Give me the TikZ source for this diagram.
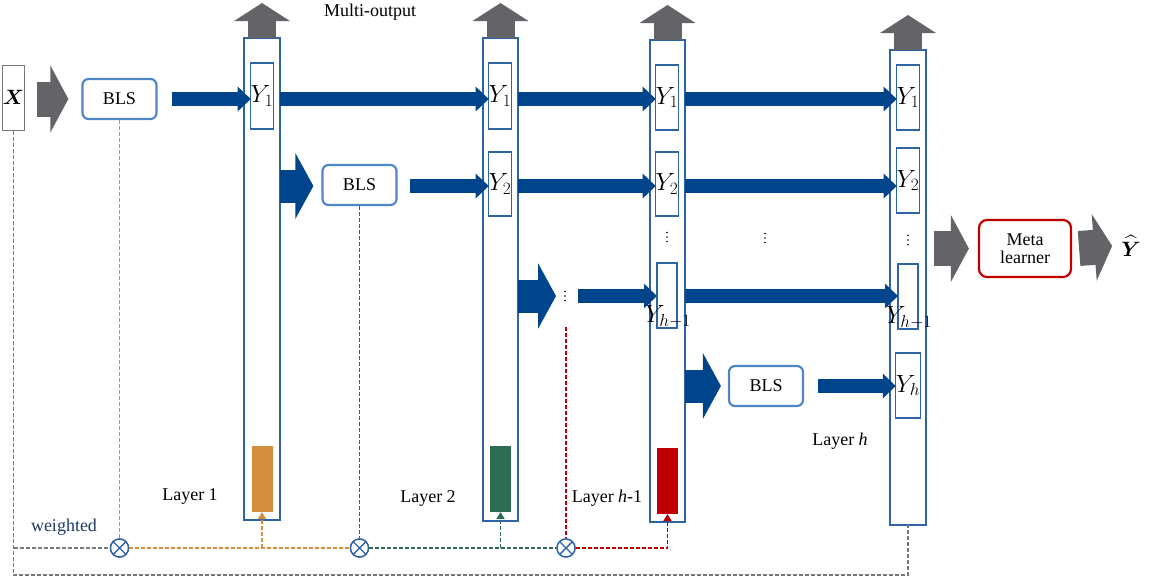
\documentclass[tikz,border=0pt]{standalone}
\usepackage{amsmath,amssymb}
\usepackage{fontspec}
\setmainfont{Liberation Serif}
\usetikzlibrary{arrows.meta,calc}
\definecolor{arrblue}{RGB}{0,69,139}
\definecolor{colblue}{RGB}{46,100,165}
\definecolor{blsblue}{RGB}{79,134,198}
\definecolor{agray}{RGB}{99,99,104}
\definecolor{orng}{RGB}{212,142,62}
\definecolor{grn}{RGB}{46,107,85}
\definecolor{rd}{RGB}{192,0,0}
\definecolor{wblue}{RGB}{31,56,100}
\definecolor{xgray}{RGB}{120,120,120}
\tikzset{
 txt/.style={font=\fontsize{18}{20}\selectfont},
 column/.style={draw=colblue,line width=1.3pt,inner sep=0pt,outer sep=0pt,minimum width=36pt},
 ybox/.style={draw=colblue,line width=1.2pt,inner sep=0pt,outer sep=0pt,minimum width=20pt,minimum height=65pt,font=\fontsize{23}{25}\selectfont},
 ylab/.style={inner sep=0pt,font=\fontsize{23}{25}\selectfont},
 bar/.style={inner sep=0pt,outer sep=0pt,minimum width=21pt,minimum height=66pt},
 bls/.style={draw=blsblue,line width=2.2pt,rounded corners=6pt,minimum width=74pt,minimum height=40pt,txt},
 bluearr/.style={draw=arrblue,line width=14pt,-{Triangle[width=24pt,length=13pt]}},
 fatblue/.style={draw=arrblue,line width=33pt,-{Triangle[width=65pt,length=18pt]}},
 fatgray/.style={draw=agray,line width=35pt,-{Triangle[width=66pt,length=18pt]}},
 upgray/.style={draw=agray,line width=28pt,-{Triangle[width=55pt,length=18pt]}},
 dsh/.style={dash pattern=on 4pt off 2pt,line width=1.6pt},
 dashtip/.style={-{Triangle[width=8pt,length=7pt]}},
 mult/.style={circle,draw=colblue,fill=white,line width=1.4pt,minimum size=18pt,inner sep=0pt,
   path picture={\draw[colblue,line width=1.4pt] (path picture bounding box.north west)--(path picture bounding box.south east) (path picture bounding box.north east)--(path picture bounding box.south west);}},
}
\newcommand{\vdotsat}[1]{\fill (#1) ++(0,-4.5) circle (0.9) (#1) circle (0.9) (#1) ++(0,4.5) circle (0.9);}
\begin{document}
\begin{tikzpicture}[x=1pt,y=-1pt]
\useasboundingbox (0,0) rectangle (1151,576);
% row coordinates
\coordinate (r1) at (0,99);
\coordinate (r2) at (0,186);
\coordinate (r3) at (0,296);
\coordinate (r4) at (0,386);
\coordinate (bot) at (0,575);
% input
\node[draw=xgray,line width=1pt,inner sep=0pt,minimum width=19pt,minimum height=65pt,font=\fontsize{21}{23}\selectfont] (X) at (13.5,97.5) {$\boldsymbol{X}$};
\node[bls] (bls1) at (119.5,99) {BLS};
\node[bls] (bls2) at (359.5,185) {BLS};
\node[bls] (bls3) at (766,386) {BLS};
\node[draw=rd,line width=2.2pt,rounded corners=8pt,minimum width=92pt,minimum height=57pt,txt,align=center,inner sep=0pt] (meta) at (1025,248.5) {Meta\\[-2pt]learner};
\node[inner sep=0pt,font=\fontsize{21}{23}\selectfont] (yhat) at (1131,246) {$\widehat{\boldsymbol{Y}}$};
% columns
\node[column,minimum height=482pt] (c1) at (262,279) {};
\node[column,minimum height=483pt,minimum width=35pt] (c2) at (500.5,279.5) {};
\node[column,minimum height=482pt,minimum width=35pt] (c3) at (667.5,281) {};
\node[column,minimum height=475pt] (c4) at (908,287.5) {};
% outputs
\node[ybox,minimum height=66pt] (c1y1) at (262,96) {$Y_1$};
\node[ybox,minimum height=66pt] (c2y1) at (500,96) {$Y_1$};
\node[ybox,minimum height=64pt] (c2y2) at (500,184) {$Y_2$};
\node[ybox] (c3y1) at (667,97.5) {$Y_1$};
\node[ybox,minimum height=64pt] (c3y2) at (667,184) {$Y_2$};
\node[ybox] (c3yh1) at (667,295.5) {};
\node[ylab] (c3yh1t) at (668,317) {$Y_{h-1}$};
\node[ybox] (c4y1) at (908,97.5) {$Y_1$};
\node[ybox] (c4y2) at (908,180.5) {$Y_2$};
\node[ybox] (c4yh1) at (908,296.5) {};
\node[ylab] (c4yh1t) at (909,318) {$Y_{h-1}$};
\node[ybox] (c4yh) at (908,385.5) {$Y_h$};
% dots
\coordinate (d3) at (667,237);
\coordinate (d4) at (908,240);
\coordinate (dm) at (765,238);
\coordinate (dots3) at (565,296);
\vdotsat{d3}\vdotsat{d4}\vdotsat{dm}\vdotsat{dots3}
% bars
\node[bar,fill=orng] (c1bar) at (262,479) {};
\node[bar,fill=grn] (c2bar) at (500.5,479) {};
\node[bar,fill=rd] (c3bar) at (667.5,481) {};
% labels
\node[txt] (mo) at (370,12) {Multi-output};
\node[txt] (l1) at (190,496) {Layer 1};
\node[txt] (l2) at (428,498) {Layer 2};
\node[txt] (lh1) at (607,498) {Layer \textit{h}-1};
\node[txt] (lh) at (840,441) {Layer \textit{h}};
\node[txt,text=wblue] (w) at (64,527) {weighted};
% multipliers
\node[mult] (m1) at (119.5,548) {};
\node[mult] (m2) at (359.5,548) {};
\node[mult] (m3) at (566,548) {};
\coordinate (rtop) at (566,327);
% dashed connectors
\draw[dsh,xgray] (X.south) -- (X.south |- bot) -| (c4.south);
\draw[dsh,xgray] (X.south |- m1) -- (m1.west);
\draw[dsh,orng] (bls1.south) -- (m1.north);
\draw[dsh,orng] (m1.east) -- (m2.west);
\draw[dsh,orng,dashtip] (c1bar.south |- m1) -- (c1bar.south);
\draw[dsh,grn] (bls2.south) -- (m2.north);
\draw[dsh,grn] (m2.east) -- (m3.west);
\draw[dsh,grn,dashtip] (c2bar.south |- m2) -- (c2bar.south);
\draw[dsh,rd] (rtop) -- (m3.north);
\draw[dsh,rd,dashtip] (m3.east) -| (c3bar.south);
\node[mult] at (m1) {};
\node[mult] at (m2) {};
\node[mult] at (m3) {};
% up arrows
\draw[upgray] (c1.north) -- ++(0,-35);
\draw[upgray] (c2.north) -- ++(0,-35);
\draw[upgray] (c3.north) -- ++(0,-35);
\draw[upgray] (c4.north) -- ++(0,-35);
% gray fat arrows
\draw[fatgray] ($(X.east |- r1)+(12,0)$) -- ($(bls1.west |- r1)+(-13,0)$);
\draw[fatgray] ($(c4.east |- meta)+(8,0)$) -- ($(meta.west)+(-9,0)$);
\draw[fatgray] ($(meta.east)+(7,0)$) -- ($(yhat.west)+(-9,0)$);
% row 1
\draw[bluearr] ($(bls1.east |- r1)+(14,0)$) -- (c1y1.west |- r1);
\draw[bluearr] (c1.east |- r1) -- (c2y1.west |- r1);
\draw[bluearr] (c2.east |- r1) -- (c3y1.west |- r1);
\draw[bluearr] (c3.east |- r1) -- (c4y1.west |- r1);
% row 2
\draw[fatblue] (c1.east |- r2) -- ($(bls2.west |- r2)+(-8,0)$);
\draw[bluearr] ($(bls2.east |- r2)+(12,0)$) -- (c2y2.west |- r2);
\draw[bluearr] (c2.east |- r2) -- (c3y2.west |- r2);
\draw[bluearr] (c3.east |- r2) -- (c4y2.west |- r2);
% row 3
\draw[fatblue] (c2.east |- r3) -- ($(dots3)+(-9,0)$);
\draw[bluearr] ($(dots3)+(13,0)$) -- (c3yh1.west |- r3);
\draw[bluearr] (c3.east |- r3) -- (c4yh1.west |- r3);
% row 4
\draw[fatblue] (c3.east |- r4) -- ($(bls3.west |- r4)+(-7,0)$);
\draw[bluearr] ($(bls3.east |- r4)+(14,0)$) -- (c4yh.west |- r4);
\end{tikzpicture}
\end{document}
